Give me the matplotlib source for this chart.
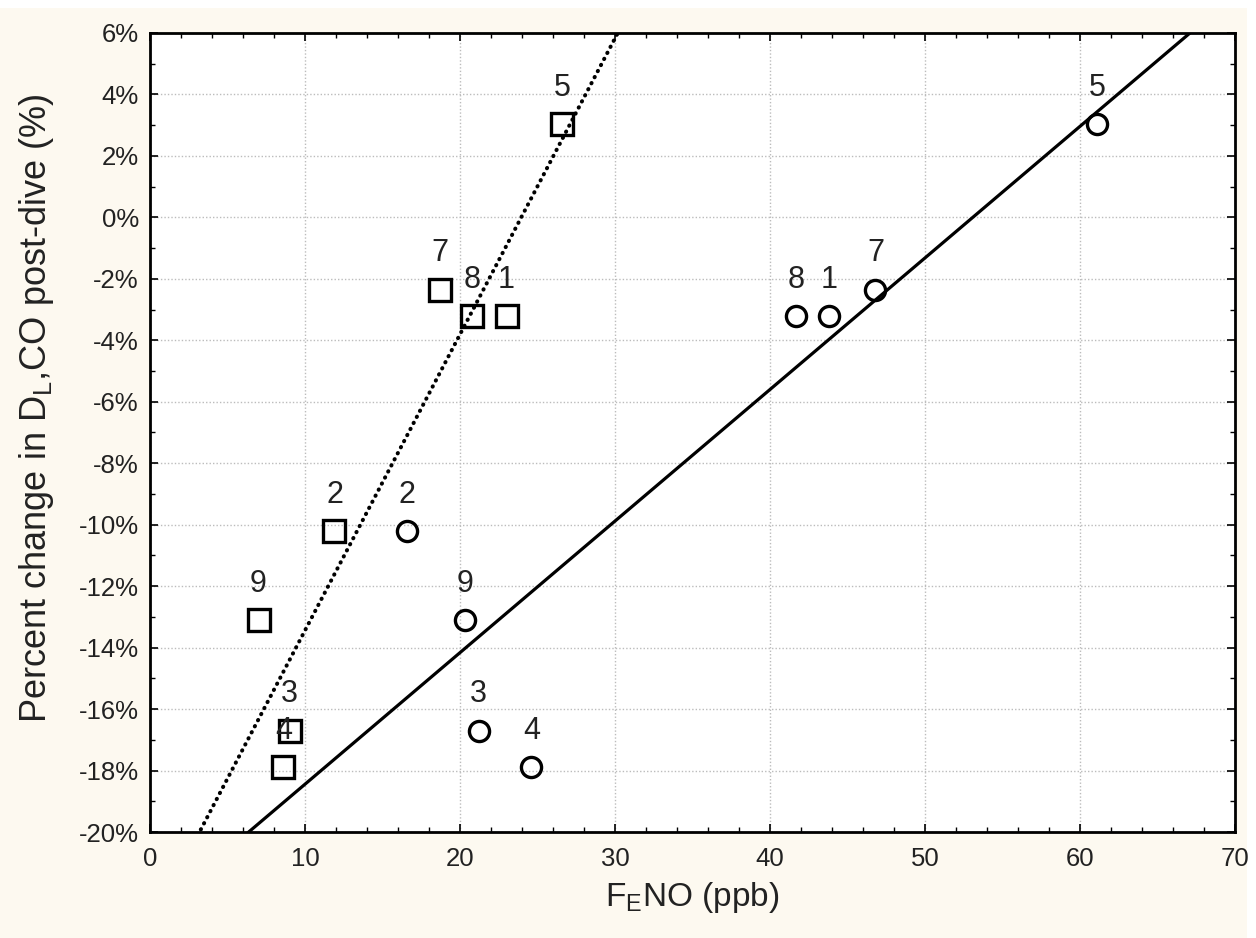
import matplotlib
matplotlib.use("Agg")
import matplotlib.pyplot as plt
import numpy as np
from matplotlib.patches import Rectangle
from matplotlib.ticker import MultipleLocator, FuncFormatter

plt.rcParams['font.family'] = ['Liberation Sans', 'DejaVu Sans']
plt.rcParams['mathtext.fontset'] = 'custom'
plt.rcParams['mathtext.rm'] = 'Liberation Sans'

# subject ids (no subject 6)
subjects = ["1", "2", "3", "4", "5", "7", "8", "9"]
dlco_change = [-3.2, -10.2, -16.7, -17.9, 3.05, -2.35, -3.2, -13.1]
feno_square = [23.0, 11.9, 9.0, 8.6, 26.6, 18.7, 20.8, 7.0]
feno_circle = [43.8, 16.6, 21.2, 24.6, 61.1, 46.8, 41.7, 20.3]

x_sq = np.array(feno_square)
x_ci = np.array(feno_circle)
y = np.array(dlco_change)

cream = "#fdf9f0"
fig = plt.figure(figsize=(12.56, 9.38), dpi=100, facecolor="white")
fig.patches.append(Rectangle((0, 0), 1247 / 1256, 930 / 938, transform=fig.transFigure,
                             facecolor=cream, edgecolor="none", zorder=-10))
ax = fig.add_axes([150 / 1256, 1 - 832 / 938, 1085 / 1256, 799 / 938])
ax.set_facecolor("white")

# regression lines
x_line = np.linspace(0, 70, 400)
k1, m1 = np.polyfit(x_sq, y, 1)
k2, m2 = np.polyfit(x_ci, y, 1)
ax.plot(x_line, k1 * x_line + m1, color="black", linewidth=2.9,
        linestyle=(0, (0.1, 1.6)), dash_capstyle="round", zorder=2)
ax.plot(x_line, k2 * x_line + m2, color="black", linewidth=2.3, zorder=2)

ax.plot(x_sq, y, linestyle="none", marker="s", markersize=16, markerfacecolor="none",
        markeredgecolor="black", markeredgewidth=2.4, zorder=3)
ax.plot(x_ci, y, linestyle="none", marker="o", markersize=14.5, markerfacecolor="none",
        markeredgecolor="black", markeredgewidth=2.4, zorder=3)

for s, xs, xc, yi in zip(subjects, x_sq, x_ci, y):
    ax.annotate(s, (xs, yi), xytext=(0, 26), textcoords="offset points",
                ha="center", va="center", fontsize=22, color="#222222")
    ax.annotate(s, (xc, yi), xytext=(0, 26), textcoords="offset points",
                ha="center", va="center", fontsize=22, color="#222222")

ax.set_xlim(0, 70)
ax.set_ylim(-20, 6)
ax.xaxis.set_major_locator(MultipleLocator(10))
ax.xaxis.set_minor_locator(MultipleLocator(2))
ax.yaxis.set_major_locator(MultipleLocator(2))
ax.yaxis.set_minor_locator(MultipleLocator(1))
ax.yaxis.set_major_formatter(FuncFormatter(lambda v, p: f"{v:.0f}%"))

ax.tick_params(which="both", direction="in", top=True, right=True, color="black")
ax.tick_params(which="major", length=6, width=1.2, labelsize=18.5, labelcolor="#222222", pad=8)
ax.tick_params(axis="x", which="major", pad=11)
ax.tick_params(which="minor", length=3.5, width=1)
ax.grid(True, which="major", color="#bcbcbc", linestyle=(0, (1, 1.5)), linewidth=1)
ax.set_axisbelow(True)
for sp in ax.spines.values():
    sp.set_linewidth(2)
    sp.set_color("black")

ax.set_xlabel(r"F$_\mathrm{E}$NO (ppb)", fontsize=24, color="#222222", labelpad=6)
ax.set_ylabel(r"Percent change in D$_\mathrm{L}$,CO post-dive (%)", fontsize=26,
              color="#222222")
ax.yaxis.set_label_coords(-0.087, 0.531)

fig.savefig("out.png", dpi=100, facecolor=fig.get_facecolor())
